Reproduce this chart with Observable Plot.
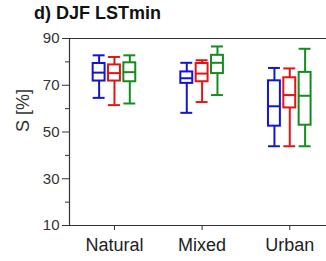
<!DOCTYPE html>
<html><head><meta charset="utf-8">
<script src="https://cdn.jsdelivr.net/npm/d3@7"></script>
<script src="https://cdn.jsdelivr.net/npm/@observablehq/plot@0.6"></script>
<style>
body{margin:0;background:#fff;overflow:hidden;font-family:"Liberation Sans",Arial,sans-serif;}
#title{height:28px;box-sizing:border-box;padding-left:34px;padding-top:3px;font-weight:bold;font-size:18px;line-height:20px;color:#111;white-space:nowrap;}
</style></head><body>
<div id="title">d) DJF LSTmin</div>
<div id="chart"></div>
<script>
const groups = ["Natural", "Mixed", "Urban"];
const seriesColors = ["#1414d6", "#e31414", "#148c1e"];
// [group][series] values in S [%]
const whiskerLow  = [[64.6, 61.5, 62.2], [58.2, 62.8, 65.8], [43.9, 43.9, 43.9]];
const q1          = [[71.8, 71.8, 71.5], [70.8, 71.5, 75.0], [52.5, 60.3, 52.9]];
const median      = [[75.4, 75.2, 75.6], [73.0, 75.0, 79.6], [61.0, 65.8, 65.5]];
const q3          = [[79.3, 78.7, 79.6], [75.7, 79.3, 82.8], [71.9, 73.2, 75.5]];
const whiskerHigh = [[82.8, 82.1, 82.8], [79.6, 80.7, 86.6], [77.4, 77.2, 85.6]];
const yMajorTicks = [10, 30, 50, 70, 90];
const yMinorTicks = [20, 40, 60, 80];

const seriesOffset = 0.175; // spacing of the three boxes inside a group (x units)
const halfWidth = 0.068;
const rows = [];
groups.forEach((g, i) => {
  seriesColors.forEach((c, j) => {
    const x = i + (j - 1) * seriesOffset;
    rows.push({group: g, color: c, x, xa: x - halfWidth, xb: x + halfWidth,
      lo: whiskerLow[i][j], q1: q1[i][j], med: median[i][j], q3: q3[i][j], hi: whiskerHigh[i][j]});
  });
});

const xMin = -0.513, xMax = 2.419;
const frameColor = "#333";
const chart = Plot.plot({
  width: 326,
  height: 233,
  marginTop: 10,
  marginBottom: 36,
  marginLeft: 69,
  marginRight: 0,
  style: {fontFamily: '"Liberation Sans", Arial, sans-serif', background: "#fff", color: "#333"},
  x: {domain: [xMin, xMax], axis: null},
  y: {domain: [10, 90], axis: null},
  marks: [
    Plot.ruleY([90], {stroke: frameColor, strokeWidth: 1.2}),
    Plot.ruleY([10], {stroke: frameColor, strokeWidth: 1.2}),
    Plot.ruleX([xMin], {stroke: frameColor, strokeWidth: 1.2}),
    Plot.axisY({ticks: yMajorTicks, tickSize: 7, tickPadding: 3, fontSize: 15, stroke: frameColor, fill: "#333", label: null}),
    Plot.axisY({ticks: yMinorTicks, tickSize: 4, tickFormat: () => "", stroke: frameColor, label: null}),
    Plot.axisX({ticks: [0, 1, 2], tickFormat: i => groups[i], tickSize: 5, tickPadding: 8, fontSize: 18, stroke: frameColor, fill: "#222", label: null}),
    Plot.text(["S [%]"], {frameAnchor: "left", dx: -46, rotate: -90, fontSize: 18, fill: "#333", text: d => d}),
    // whiskers
    Plot.ruleX(rows, {x: "x", y1: "lo", y2: "q1", stroke: "color", strokeWidth: 2}),
    Plot.ruleX(rows, {x: "x", y1: "q3", y2: "hi", stroke: "color", strokeWidth: 2}),
    // caps
    Plot.ruleY(rows, {y: "lo", x1: "xa", x2: "xb", stroke: "color", strokeWidth: 2}),
    Plot.ruleY(rows, {y: "hi", x1: "xa", x2: "xb", stroke: "color", strokeWidth: 2}),
    // boxes
    Plot.rect(rows, {x1: "xa", x2: "xb", y1: "q1", y2: "q3", fill: "white", stroke: "color", strokeWidth: 2}),
    // medians
    Plot.ruleY(rows, {y: "med", x1: "xa", x2: "xb", stroke: "color", strokeWidth: 2})
  ]
});
document.getElementById("chart").appendChild(chart);
</script></body></html>
